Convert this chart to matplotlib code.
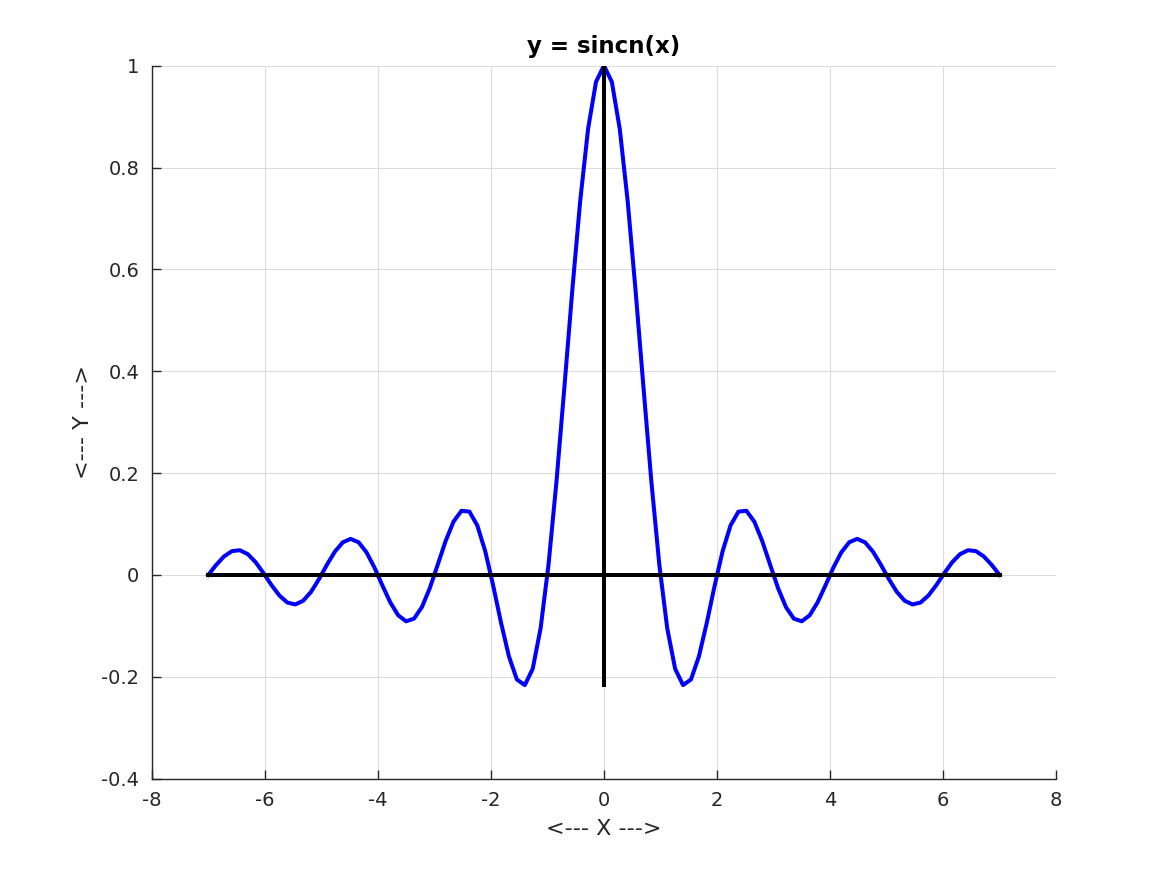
import numpy as np
import matplotlib
matplotlib.use("Agg")
import matplotlib.pyplot as plt

plt.rcParams['font.family'] = ['DejaVu Sans']
plt.rcParams['axes.unicode_minus'] = False

# sample grid of the curve, -7 .. 7 in 101 steps
x_start, x_stop, n_points = -7.0, 7.0, 101

# y values for x >= 0 (the curve is symmetric)
y_right = [1.0, 0.9681, 0.8759, 0.7341, 0.5584, 0.3679, 0.1826, 0.0204,
           -0.1046, -0.1842, -0.2162, -0.2051, -0.1600, -0.0937, -0.0204,
           0.0468, 0.0973, 0.1244, 0.1261, 0.1049, 0.0668, 0.0203,
           -0.0257, -0.0630, -0.0857, -0.0909, -0.0791, -0.0537, -0.0202,
           0.0147, 0.0445, 0.0643, 0.0709, 0.0641, 0.0458, 0.0201,
           -0.0079, -0.0329, -0.0505, -0.0578, -0.0541, -0.0404, -0.0199,
           0.0033, 0.0249, 0.0409, 0.0486, 0.0469, 0.0365, 0.0198, 0.0]

xticks = [-8, -6, -4, -2, 0, 2, 4, 6, 8]
yticks = [-0.4, -0.2, 0, 0.2, 0.4, 0.6, 0.8, 1]
ytick_labels = ["-0.4", "-0.2", "0", "0.2", "0.4", "0.6", "0.8", "1"]

x = np.linspace(x_start, x_stop, n_points)
y = np.array(y_right[:0:-1] + y_right)

fig = plt.figure(figsize=(11.67, 8.75), dpi=100)
ax = fig.add_axes([0.13, 0.11, 0.775, 0.815])

ax.plot(x, y, color="blue", lw=2.9, zorder=3)
ax.plot([x.min(), x.max()], [0, 0], color="black", lw=2.9, zorder=4)
ax.plot([0, 0], [y.min(), y.max()], color="black", lw=2.9, zorder=4)

ax.set_xlim(-8, 8)
ax.set_ylim(-0.4, 1)
ax.set_xticks(xticks)
ax.set_yticks(yticks)
ax.set_yticklabels(ytick_labels)
ax.grid(True, color="#dcdcdc", lw=0.8)
ax.set_axisbelow(True)

for s in ["top", "right"]:
    ax.spines[s].set_visible(False)
for s in ["left", "bottom"]:
    ax.spines[s].set_color("#262626")
    ax.spines[s].set_linewidth(1.0)
ax.tick_params(direction="in", length=6.5, width=1.0, color="#262626",
               labelcolor="#262626", labelsize=14, pad=9)

ax.set_title("y = sincn(x)", fontsize=16.5, fontweight="bold", pad=9)
ax.set_xlabel("<--- X --->", fontsize=16, color="#262626", labelpad=6)
ax.set_ylabel("<--- Y --->", fontsize=16, color="#262626", labelpad=6)

fig.savefig("out.png", dpi=100)
